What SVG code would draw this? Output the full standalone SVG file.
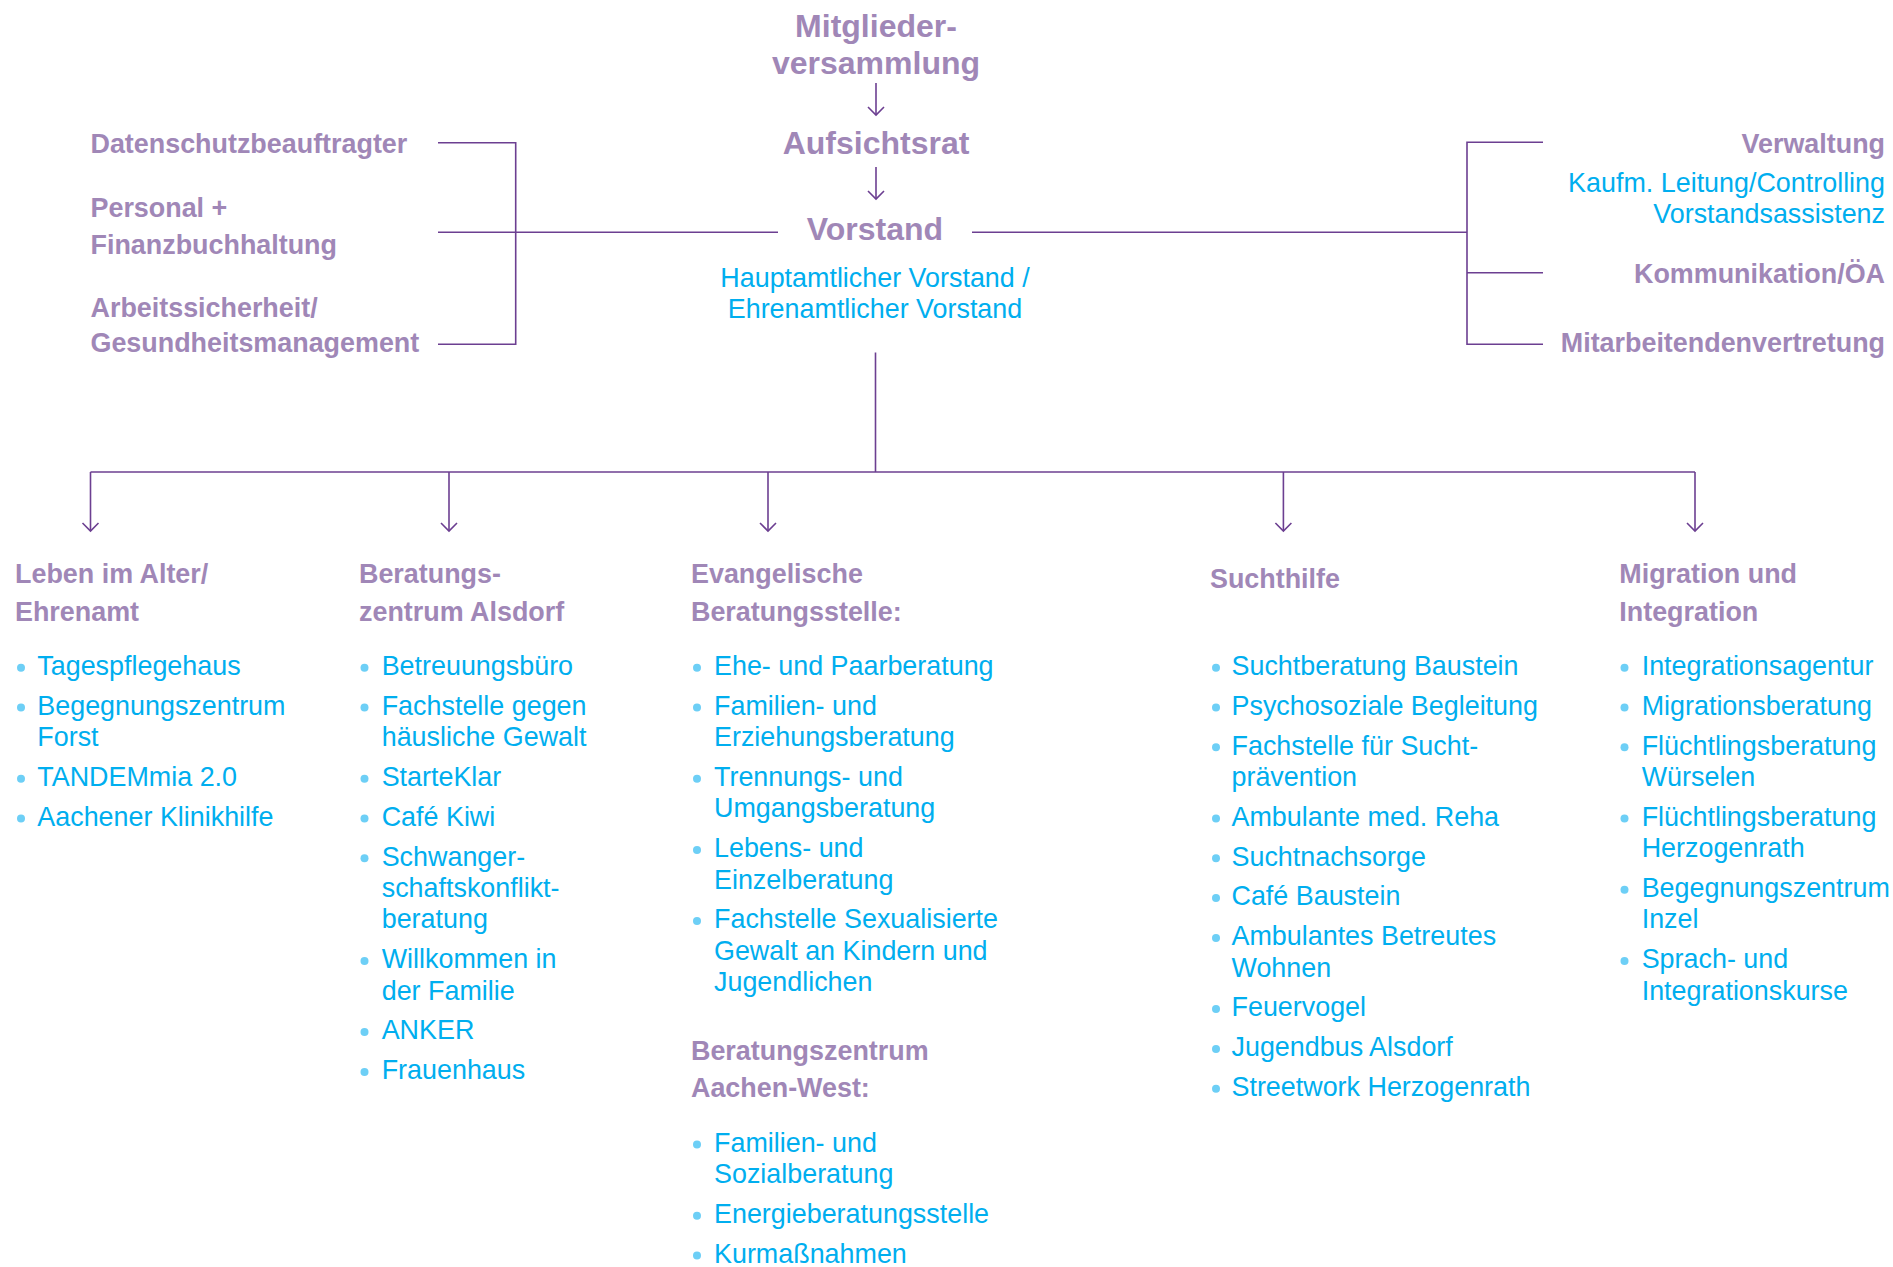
<svg xmlns="http://www.w3.org/2000/svg" width="1893" height="1267" viewBox="0 0 1893 1267">
<defs>
<style>
.t{font-family:"Liberation Sans",Arial,Helvetica,sans-serif;}
.big{font-weight:bold;font-size:32px;fill:#a087b7;text-anchor:middle;}
.hd{font-weight:bold;font-size:26.9px;fill:#a087b7;}
.bl{font-size:26.9px;fill:#00aeef;}
.end{text-anchor:end;}
.mid{text-anchor:middle;}
.ln{fill:none;stroke:#6c3f91;stroke-width:1.6;}
.dot{fill:#6dcff6;}
</style>
<marker id="ah" markerWidth="20" markerHeight="20" refX="10" refY="10" orient="auto" markerUnits="userSpaceOnUse">
<path d="M2,2 L10,10 L2,18" fill="none" stroke="#6c3f91" stroke-width="1.6"/>
</marker>
</defs>
<rect width="1893" height="1267" fill="#ffffff"/>

<g id="connectors">
<line class="ln" x1="876" y1="83" x2="876" y2="115" marker-end="url(#ah)"/>
<line class="ln" x1="876" y1="167" x2="876" y2="199" marker-end="url(#ah)"/>
<polyline class="ln" points="438,142.7 515.7,142.7 515.7,344.3 438,344.3"/>
<line class="ln" x1="438" y1="232.3" x2="778" y2="232.3"/>
<line class="ln" x1="972" y1="232.3" x2="1467" y2="232.3"/>
<polyline class="ln" points="1543,142.3 1467,142.3 1467,344.3 1543,344.3"/>
<line class="ln" x1="1467" y1="272.7" x2="1543" y2="272.7"/>
<line class="ln" x1="875.5" y1="352.5" x2="875.5" y2="472"/>
<line class="ln" x1="90.5" y1="472" x2="1695" y2="472"/>
<line class="ln" x1="90.5" y1="472" x2="90.5" y2="531" marker-end="url(#ah)"/>
<line class="ln" x1="449" y1="472" x2="449" y2="531" marker-end="url(#ah)"/>
<line class="ln" x1="768" y1="472" x2="768" y2="531" marker-end="url(#ah)"/>
<line class="ln" x1="1283.4" y1="472" x2="1283.4" y2="531" marker-end="url(#ah)"/>
<line class="ln" x1="1695" y1="472" x2="1695" y2="531" marker-end="url(#ah)"/>
</g>

<g id="mitgliederversammlung">
<text class="t big" x="876" y="36.7">Mitglieder-</text>
<text class="t big" x="876" y="74">versammlung</text>
</g>
<g id="aufsichtsrat">
<text class="t big" x="876" y="154">Aufsichtsrat</text>
</g>
<g id="vorstand">
<text class="t big" x="875" y="240">Vorstand</text>
<text class="t bl mid" x="875" y="287">Hauptamtlicher Vorstand /</text>
<text class="t bl mid" x="875" y="318">Ehrenamtlicher Vorstand</text>
</g>

<g id="datenschutz">
<text class="t hd" x="90.5" y="153.3">Datenschutzbeauftragter</text>
</g>
<g id="personal">
<text class="t hd" x="90.5" y="216.7">Personal +</text>
<text class="t hd" x="90.5" y="254">Finanzbuchhaltung</text>
</g>
<g id="arbeitssicherheit">
<text class="t hd" x="90.5" y="316.7">Arbeitssicherheit/</text>
<text class="t hd" x="90.5" y="352">Gesundheitsmanagement</text>
</g>

<g id="verwaltung">
<text class="t hd end" x="1885" y="153.3">Verwaltung</text>
<text class="t bl end" x="1885" y="191.7">Kaufm. Leitung/Controlling</text>
<text class="t bl end" x="1885" y="223">Vorstandsassistenz</text>
</g>
<g id="kommunikation">
<text class="t hd end" x="1885" y="282.7">Kommunikation/ÖA</text>
</g>
<g id="mitarbeitendenvertretung">
<text class="t hd end" x="1885" y="351.7">Mitarbeitendenvertretung</text>
</g>

<g id="leben-im-alter">
<text class="t hd" x="15" y="583">Leben im Alter/</text>
<text class="t hd" x="15" y="620.5">Ehrenamt</text>
<circle class="dot" cx="21" cy="667.7" r="4"/>
<text class="t bl" x="37.3" y="675">Tagespflegehaus</text>
<circle class="dot" cx="21" cy="707.5" r="4"/>
<text class="t bl" x="37.3" y="714.8">Begegnungszentrum</text>
<text class="t bl" x="37.3" y="746.2">Forst</text>
<circle class="dot" cx="21" cy="778.7" r="4"/>
<text class="t bl" x="37.3" y="786">TANDEMmia 2.0</text>
<circle class="dot" cx="21" cy="818.5" r="4"/>
<text class="t bl" x="37.3" y="825.8">Aachener Klinikhilfe</text>
</g>

<g id="beratungszentrum-alsdorf">
<text class="t hd" x="359" y="583">Beratungs-</text>
<text class="t hd" x="359" y="620.5">zentrum Alsdorf</text>
<circle class="dot" cx="364.5" cy="667.7" r="4"/>
<text class="t bl" x="381.7" y="675">Betreuungsbüro</text>
<circle class="dot" cx="364.5" cy="707.5" r="4"/>
<text class="t bl" x="381.7" y="714.8">Fachstelle gegen</text>
<text class="t bl" x="381.7" y="746.2">häusliche Gewalt</text>
<circle class="dot" cx="364.5" cy="778.7" r="4"/>
<text class="t bl" x="381.7" y="786">StarteKlar</text>
<circle class="dot" cx="364.5" cy="818.5" r="4"/>
<text class="t bl" x="381.7" y="825.8">Café Kiwi</text>
<circle class="dot" cx="364.5" cy="858.3" r="4"/>
<text class="t bl" x="381.7" y="865.6">Schwanger-</text>
<text class="t bl" x="381.7" y="897">schaftskonflikt-</text>
<text class="t bl" x="381.7" y="928.4">beratung</text>
<circle class="dot" cx="364.5" cy="960.9" r="4"/>
<text class="t bl" x="381.7" y="968.2">Willkommen in</text>
<text class="t bl" x="381.7" y="999.6">der Familie</text>
<circle class="dot" cx="364.5" cy="1032.1" r="4"/>
<text class="t bl" x="381.7" y="1039.4">ANKER</text>
<circle class="dot" cx="364.5" cy="1071.9" r="4"/>
<text class="t bl" x="381.7" y="1079.2">Frauenhaus</text>
</g>

<g id="evangelische-beratungsstelle">
<text class="t hd" x="691" y="583">Evangelische</text>
<text class="t hd" x="691" y="620.5">Beratungsstelle:</text>
<circle class="dot" cx="697" cy="667.7" r="4"/>
<text class="t bl" x="714" y="675">Ehe- und Paarberatung</text>
<circle class="dot" cx="697" cy="707.5" r="4"/>
<text class="t bl" x="714" y="714.8">Familien- und</text>
<text class="t bl" x="714" y="746.2">Erziehungsberatung</text>
<circle class="dot" cx="697" cy="778.7" r="4"/>
<text class="t bl" x="714" y="786">Trennungs- und</text>
<text class="t bl" x="714" y="817.4">Umgangsberatung</text>
<circle class="dot" cx="697" cy="849.9" r="4"/>
<text class="t bl" x="714" y="857.2">Lebens- und</text>
<text class="t bl" x="714" y="888.6">Einzelberatung</text>
<circle class="dot" cx="697" cy="921.1" r="4"/>
<text class="t bl" x="714" y="928.4">Fachstelle Sexualisierte</text>
<text class="t bl" x="714" y="959.8">Gewalt an Kindern und</text>
<text class="t bl" x="714" y="991.2">Jugendlichen</text>
</g>

<g id="beratungszentrum-aachen-west">
<text class="t hd" x="691" y="1060">Beratungszentrum</text>
<text class="t hd" x="691" y="1097.4">Aachen-West:</text>
<circle class="dot" cx="697" cy="1144.5" r="4"/>
<text class="t bl" x="714" y="1151.8">Familien- und</text>
<text class="t bl" x="714" y="1183.2">Sozialberatung</text>
<circle class="dot" cx="697" cy="1215.7" r="4"/>
<text class="t bl" x="714" y="1223">Energieberatungsstelle</text>
<circle class="dot" cx="697" cy="1255.5" r="4"/>
<text class="t bl" x="714" y="1262.8">Kurmaßnahmen</text>
</g>

<g id="suchthilfe">
<text class="t hd" x="1210" y="588">Suchthilfe</text>
<circle class="dot" cx="1216" cy="667.7" r="4"/>
<text class="t bl" x="1231.5" y="675">Suchtberatung Baustein</text>
<circle class="dot" cx="1216" cy="707.5" r="4"/>
<text class="t bl" x="1231.5" y="714.8">Psychosoziale Begleitung</text>
<circle class="dot" cx="1216" cy="747.3" r="4"/>
<text class="t bl" x="1231.5" y="754.6">Fachstelle für Sucht-</text>
<text class="t bl" x="1231.5" y="786">prävention</text>
<circle class="dot" cx="1216" cy="818.5" r="4"/>
<text class="t bl" x="1231.5" y="825.8">Ambulante med. Reha</text>
<circle class="dot" cx="1216" cy="858.3" r="4"/>
<text class="t bl" x="1231.5" y="865.6">Suchtnachsorge</text>
<circle class="dot" cx="1216" cy="898.1" r="4"/>
<text class="t bl" x="1231.5" y="905.4">Café Baustein</text>
<circle class="dot" cx="1216" cy="937.9" r="4"/>
<text class="t bl" x="1231.5" y="945.2">Ambulantes Betreutes</text>
<text class="t bl" x="1231.5" y="976.6">Wohnen</text>
<circle class="dot" cx="1216" cy="1009.1" r="4"/>
<text class="t bl" x="1231.5" y="1016.4">Feuervogel</text>
<circle class="dot" cx="1216" cy="1048.9" r="4"/>
<text class="t bl" x="1231.5" y="1056.2">Jugendbus Alsdorf</text>
<circle class="dot" cx="1216" cy="1088.7" r="4"/>
<text class="t bl" x="1231.5" y="1096">Streetwork Herzogenrath</text>
</g>

<g id="migration-integration">
<text class="t hd" x="1619.3" y="583">Migration und</text>
<text class="t hd" x="1619.3" y="620.5">Integration</text>
<circle class="dot" cx="1624.5" cy="667.7" r="4"/>
<text class="t bl" x="1641.7" y="675">Integrationsagentur</text>
<circle class="dot" cx="1624.5" cy="707.5" r="4"/>
<text class="t bl" x="1641.7" y="714.8">Migrationsberatung</text>
<circle class="dot" cx="1624.5" cy="747.3" r="4"/>
<text class="t bl" x="1641.7" y="754.6">Flüchtlingsberatung</text>
<text class="t bl" x="1641.7" y="786">Würselen</text>
<circle class="dot" cx="1624.5" cy="818.5" r="4"/>
<text class="t bl" x="1641.7" y="825.8">Flüchtlingsberatung</text>
<text class="t bl" x="1641.7" y="857.2">Herzogenrath</text>
<circle class="dot" cx="1624.5" cy="889.7" r="4"/>
<text class="t bl" x="1641.7" y="897">Begegnungszentrum</text>
<text class="t bl" x="1641.7" y="928.4">Inzel</text>
<circle class="dot" cx="1624.5" cy="960.9" r="4"/>
<text class="t bl" x="1641.7" y="968.2">Sprach- und</text>
<text class="t bl" x="1641.7" y="999.6">Integrationskurse</text>
</g>
</svg>
